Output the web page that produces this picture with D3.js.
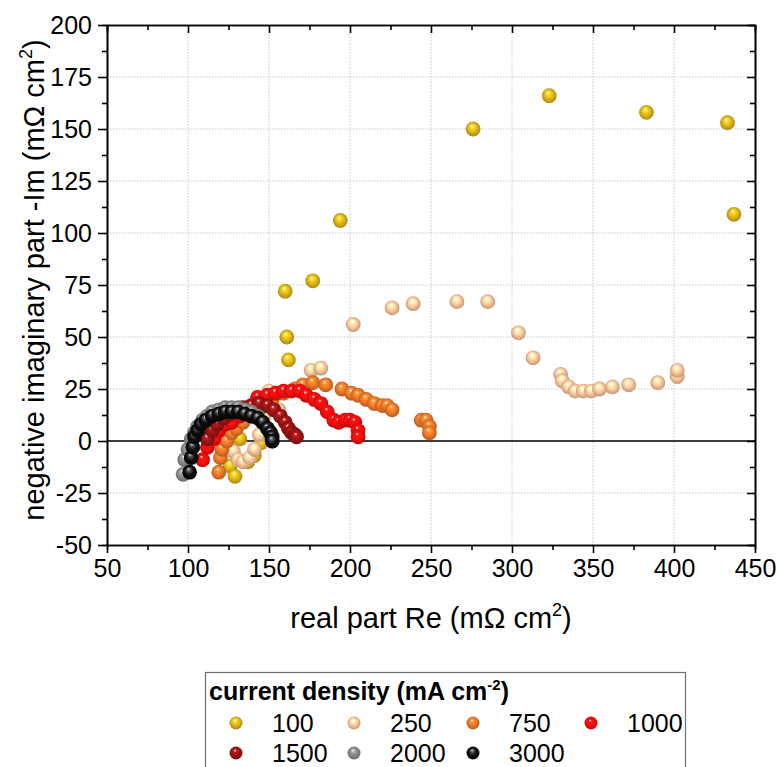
<!DOCTYPE html>
<html>
<head>
<meta charset="utf-8">
<script src="https://cdn.jsdelivr.net/npm/d3@7"></script>
<style>
  body { margin: 0; background: #fff; }
  svg { font-family: "Liberation Sans", Arial, sans-serif; }
</style>
</head>
<body>
<div id="chart"></div>
<script>
// current densities (mA cm-2), one series each
const densities = ['100', '250', '750', '1000', '1500', '2000', '3000'];

// real part Re / negative imaginary part -Im (mOhm cm2)
const re100 = [132, 126, 129, 137, 141, 145, 162, 161, 160, 177, 194, 276, 323, 383, 433, 437];
const im100 = [1, -12, -17, -10, -7, -1, 39, 50, 72, 77, 106, 150, 166, 158, 153, 109];

const re250 = [128, 131, 134, 138, 141, 144, 147, 150, 156, 176, 182, 202, 226, 239, 266, 285, 304, 313, 330, 331, 335, 339, 344, 349, 354, 362, 372, 390, 402, 402];
const im250 = [-5, -9, -10, -8, -4, 3, 12, 24, 15, 34, 35, 56, 64, 66, 67, 67, 52, 40, 32, 29, 26, 24, 24, 24, 25, 26, 27, 28, 31, 34];

const re750 = [119, 120, 121, 124, 127, 130, 134, 139, 145, 152, 159, 166, 171, 177, 185, 195, 201, 205, 210, 215, 220, 223, 226, 244, 247, 249, 249];
const im750 = [-15, -8, -4, 0, 4, 6, 9, 12, 16, 20, 23, 25, 27, 28, 27, 25, 23, 22, 20, 18, 17, 17, 15, 10, 10, 7, 4];

const re1000 = [109, 112, 116, 119, 123, 127, 132, 137, 143, 149, 154, 159, 164, 169, 173, 178, 182, 186, 190, 193, 197, 200, 203, 205, 205];
const im1000 = [-9, -3, 1, 5, 8, 9, 12, 16, 21, 22, 23, 24, 24, 24, 22, 20, 18, 14, 10, 9, 10, 10, 9, 5, 2];

const re1500 = [112, 115, 118, 122, 126, 130, 134, 139, 144, 149, 153, 157, 160, 162, 164, 166, 167];
const im1500 = [1, 5, 8, 11, 13, 15, 16, 17, 18, 17, 15, 12, 9, 6, 4, 3, 2];

const re2000 = [97, 98, 100, 102, 104, 106, 109, 112, 115, 119, 123, 127, 131, 135, 139, 143, 146, 149, 151, 152];
const im2000 = [-16, -9, -4, 1, 4, 7, 10, 12, 14, 15, 16, 16, 16, 15, 14, 12, 9, 6, 3, 0];

const re3000 = [101, 102, 103, 104, 106, 108, 111, 115, 119, 123, 127, 131, 135, 139, 143, 146, 149, 151, 152, 152];
const im3000 = [-15, -8, -3, 2, 5, 8, 10, 12, 13, 14, 14, 14, 13, 12, 11, 9, 6, 4, 2, 0];

const xTicks = [50, 100, 150, 200, 250, 300, 350, 400, 450];
const yTicks = [-50, -25, 0, 25, 50, 75, 100, 125, 150, 175, 200];

const colors = ['#e0b41c', '#fcc79c', '#ee7828', '#f80d0d', '#9b1414', '#8a8a8a', '#0a0a0a'];

const reArrays = [re100, re250, re750, re1000, re1500, re2000, re3000];
const imArrays = [im100, im250, im750, im1000, im1500, im2000, im3000];
const series = densities.map((d, i) => ({
    label: d,
    color: colors[i],
    points: reArrays[i].map((r, j) => ({ re: r, im: imArrays[i][j] }))
}));

// Set up SVG and margins
const margin = { top: 25, right: 24, bottom: 222, left: 107 };
const W = 779, H = 767;
const width = W - margin.left - margin.right;
const height = H - margin.top - margin.bottom;

const svg = d3.select('#chart')
    .append('svg')
    .attr('width', W)
    .attr('height', H);

// sphere-like gradients for the markers
const defs = svg.append('defs');
series.forEach((s, i) => {
    const base = d3.color(s.color);
    const g = defs.append('radialGradient')
        .attr('id', 'ball' + i)
        .attr('cx', '50%').attr('cy', '50%').attr('r', '55%')
        .attr('fx', '42%').attr('fy', '28%');
    g.append('stop').attr('offset', '0%').attr('stop-color', i === 6 ? '#d8d8d8' : '#ffffff');
    g.append('stop').attr('offset', '22%').attr('stop-color', i === 6 ? '#555' : base.brighter(0.6));
    g.append('stop').attr('offset', '55%').attr('stop-color', s.color);
    g.append('stop').attr('offset', '100%').attr('stop-color', base.darker(0.9));
});

const plot = svg.append('g')
    .attr('transform', `translate(${margin.left},${margin.top})`);

// Set up scales
const x = d3.scaleLinear().domain([50, 450]).range([0, width]);
const y = d3.scaleLinear().domain([-50, 200]).range([height, 0]);

// dotted grid
plot.append('g')
    .selectAll('line')
    .data(xTicks.slice(1, -1))
    .enter()
    .append('line')
    .attr('x1', d => x(d)).attr('x2', d => x(d))
    .attr('y1', 0).attr('y2', height)
    .attr('stroke', '#c8c8c8')
    .attr('stroke-dasharray', '1.5,1.5');
plot.append('g')
    .selectAll('line')
    .data(yTicks.slice(1, -1))
    .enter()
    .append('line')
    .attr('y1', d => y(d)).attr('y2', d => y(d))
    .attr('x1', 0).attr('x2', width)
    .attr('stroke', '#c8c8c8')
    .attr('stroke-dasharray', '1.5,1.5');

// zero line
plot.append('line')
    .attr('x1', 0).attr('x2', width)
    .attr('y1', y(0)).attr('y2', y(0))
    .attr('stroke', '#000')
    .attr('stroke-width', 1.5);

const xMinor = xTicks.slice(0, -1).map(d => d + 25);
const yMinor = yTicks.slice(0, -1).map(d => d + 12.5);
const plain = d => String(d);  // keep the ascii hyphen for negatives

function styleAxis(g) {
    g.select('.domain').attr('stroke', '#000').attr('stroke-width', 1.6);
    g.selectAll('.tick line').attr('stroke', '#000').attr('stroke-width', 1.6);
    g.selectAll('.tick text').attr('fill', '#000').attr('font-size', 25);
}

// Add X axis (bottom with labels, top with inward ticks)
plot.append('g')
    .attr('transform', `translate(0,${height})`)
    .call(d3.axisBottom(x).tickValues(xTicks).tickSizeInner(8).tickSizeOuter(0).tickPadding(6).tickFormat(plain))
    .call(styleAxis);
plot.append('g')
    .attr('transform', `translate(0,${height})`)
    .call(d3.axisBottom(x).tickValues(xMinor).tickSize(5).tickFormat(''))
    .call(styleAxis);
plot.append('g')
    .call(d3.axisTop(x).tickValues(xTicks).tickSizeInner(-8).tickSizeOuter(0).tickFormat(''))
    .call(styleAxis);
plot.append('g')
    .call(d3.axisTop(x).tickValues(xMinor).tickSize(-5).tickFormat(''))
    .call(styleAxis);

// Add Y axis (left with labels, right with inward ticks)
plot.append('g')
    .call(d3.axisLeft(y).tickValues(yTicks).tickSizeInner(9).tickSizeOuter(0).tickPadding(6).tickFormat(plain))
    .call(styleAxis);
plot.append('g')
    .call(d3.axisLeft(y).tickValues(yMinor).tickSize(5).tickFormat(''))
    .call(styleAxis);
plot.append('g')
    .attr('transform', `translate(${width},0)`)
    .call(d3.axisRight(y).tickValues(yTicks).tickSizeInner(-8).tickSizeOuter(0).tickFormat(''))
    .call(styleAxis);
plot.append('g')
    .attr('transform', `translate(${width},0)`)
    .call(d3.axisRight(y).tickValues(yMinor).tickSize(-5).tickFormat(''))
    .call(styleAxis);

// Add points
series.forEach((s, i) => {
    plot.append('g')
        .selectAll('circle')
        .data(s.points)
        .enter()
        .append('circle')
        .attr('cx', d => x(d.re))
        .attr('cy', d => y(d.im))
        .attr('r', 7.4)
        .attr('fill', `url(#ball${i})`);
});

// axis titles
const xTitle = svg.append('text')
    .attr('x', margin.left + width / 2)
    .attr('y', 628)
    .attr('text-anchor', 'middle')
    .attr('font-size', 29);
xTitle.append('tspan').text('real part Re (m\u03A9 cm');
xTitle.append('tspan').attr('font-size', 18).attr('dy', -12).text('2');
xTitle.append('tspan').attr('dy', 12).text(')');

const yTitle = svg.append('text')
    .attr('transform', `translate(44,${margin.top + height / 2 - 5}) rotate(-90)`)
    .attr('text-anchor', 'middle')
    .attr('font-size', 29);
yTitle.append('tspan').text('negative imaginary part -Im (m\u03A9 cm');
yTitle.append('tspan').attr('font-size', 18).attr('dy', -12).text('2');
yTitle.append('tspan').attr('dy', 12).text(')');

// legend
const legend = svg.append('g');
legend.append('rect')
    .attr('x', 205.5).attr('y', 672.5)
    .attr('width', 480).attr('height', 120)
    .attr('fill', '#fff')
    .attr('stroke', '#707070')
    .attr('stroke-width', 1.2);

const lTitle = legend.append('text')
    .attr('x', 209).attr('y', 700)
    .attr('font-size', 25)
    .attr('font-weight', 'bold');
lTitle.append('tspan').text('current density (mA cm');
lTitle.append('tspan').attr('font-size', 15).attr('dy', -10).text('-2');
lTitle.append('tspan').attr('dy', 10).text(')');

const colX = [236, 354, 473, 591];
const rowY = [723, 753];
series.forEach((s, i) => {
    const cx = colX[i % 4];
    const cy = rowY[Math.floor(i / 4)];
    legend.append('circle')
        .attr('cx', cx).attr('cy', cy)
        .attr('r', 6.5)
        .attr('fill', `url(#ball${i})`);
    legend.append('text')
        .attr('x', cx + 36).attr('y', cy + 9)
        .attr('font-size', 25)
        .text(s.label);
});
</script>
</body>
</html>
